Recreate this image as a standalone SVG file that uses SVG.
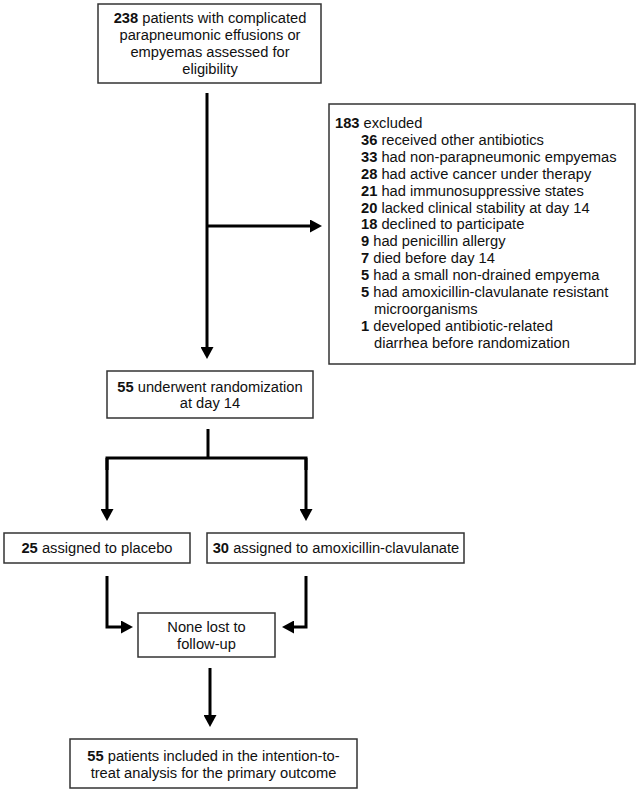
<svg xmlns="http://www.w3.org/2000/svg" width="640" height="793" viewBox="0 0 640 793">
<style>
  .box { fill: #ffffff; stroke: #333333; stroke-width: 1.5; }
  .t { font-family: "Liberation Sans", Arial, Helvetica, sans-serif; font-size: 14.7px; fill: #111111; }
  .c { text-anchor: middle; }
  .b { font-weight: bold; }
  .conn { fill: none; stroke: #000000; stroke-width: 3; stroke-linejoin: miter; stroke-linecap: butt; }
</style>
<defs>
  <marker id="ah" markerUnits="userSpaceOnUse" markerWidth="13" markerHeight="13" refX="6" refY="6.5" orient="auto" viewBox="0 0 13 13">
    <path d="M0,0 L12,6.5 L0,13 Z" fill="#000000"/>
  </marker>
</defs>
<rect width="640" height="793" fill="#ffffff"/>

<g id="connectors">
  <path class="conn" d="M207,93 L207,353" marker-end="url(#ah)"/>
  <path class="conn" d="M207,226 L316,226" marker-end="url(#ah)"/>
  <path class="conn" d="M208,429 L208,458"/>
  <path class="conn" d="M107,470 L107,458 L306,458 L306,470"/>
  <path class="conn" d="M107,458 L107,515" marker-end="url(#ah)"/>
  <path class="conn" d="M306,458 L306,515" marker-end="url(#ah)"/>
  <path class="conn" d="M107,576 L107,627 L127,627" marker-end="url(#ah)"/>
  <path class="conn" d="M306,576 L306,627 L288,627" marker-end="url(#ah)"/>
  <path class="conn" d="M210,668 L210,721" marker-end="url(#ah)"/>
</g>

<g id="n-screen">
  <rect class="box" x="98" y="4" width="223" height="79"/>
  <text class="t c" x="210" y="23"><tspan class="b">238</tspan> patients with complicated</text>
  <text class="t c" x="210" y="40">parapneumonic effusions or</text>
  <text class="t c" x="210" y="57">empyemas assessed for</text>
  <text class="t c" x="210" y="74">eligibility</text>
</g>

<g id="n-excluded">
  <rect class="box" x="329" y="104" width="306" height="260"/>
  <text class="t" x="335" y="128"><tspan class="b">183</tspan> excluded</text>
  <text class="t" x="361" y="144.9"><tspan class="b">36</tspan> received other antibiotics</text>
  <text class="t" x="361" y="161.8"><tspan class="b">33</tspan> had non-parapneumonic empyemas</text>
  <text class="t" x="361" y="178.7"><tspan class="b">28</tspan> had active cancer under therapy</text>
  <text class="t" x="361" y="195.6"><tspan class="b">21</tspan> had immunosuppressive states</text>
  <text class="t" x="361" y="212.5"><tspan class="b">20</tspan> lacked clinical stability at day 14</text>
  <text class="t" x="361" y="229.4"><tspan class="b">18</tspan> declined to participate</text>
  <text class="t" x="361" y="246.3"><tspan class="b">9</tspan> had penicillin allergy</text>
  <text class="t" x="361" y="263.2"><tspan class="b">7</tspan> died before day 14</text>
  <text class="t" x="361" y="280.1"><tspan class="b">5</tspan> had a small non-drained empyema</text>
  <text class="t" x="361" y="297"><tspan class="b">5</tspan> had amoxicillin-clavulanate resistant</text>
  <text class="t" x="374" y="313.9">microorganisms</text>
  <text class="t" x="361" y="330.8"><tspan class="b">1</tspan> developed antibiotic-related</text>
  <text class="t" x="374" y="347.7">diarrhea before randomization</text>
</g>

<g id="n-random">
  <rect class="box" x="107" y="371" width="206" height="47"/>
  <text class="t c" x="210" y="391.5"><tspan class="b">55</tspan> underwent randomization</text>
  <text class="t c" x="210" y="408">at day 14</text>
</g>

<g id="n-placebo">
  <rect class="box" x="4" y="533" width="186" height="30"/>
  <text class="t c" x="97" y="553"><tspan class="b">25</tspan> assigned to placebo</text>
</g>

<g id="n-amox">
  <rect class="box" x="207" y="533" width="257" height="30"/>
  <text class="t c" x="336" y="553"><tspan class="b">30</tspan> assigned to amoxicillin-clavulanate</text>
</g>

<g id="n-lost">
  <rect class="box" x="138" y="613" width="137" height="44"/>
  <text class="t c" x="206.5" y="632">None lost to</text>
  <text class="t c" x="206.5" y="649">follow-up</text>
</g>

<g id="n-itt">
  <rect class="box" x="70" y="739" width="287" height="49"/>
  <text class="t c" x="213.5" y="761"><tspan class="b">55</tspan> patients included in the intention-to-</text>
  <text class="t c" x="213.5" y="778">treat analysis for the primary outcome</text>
</g>
</svg>
